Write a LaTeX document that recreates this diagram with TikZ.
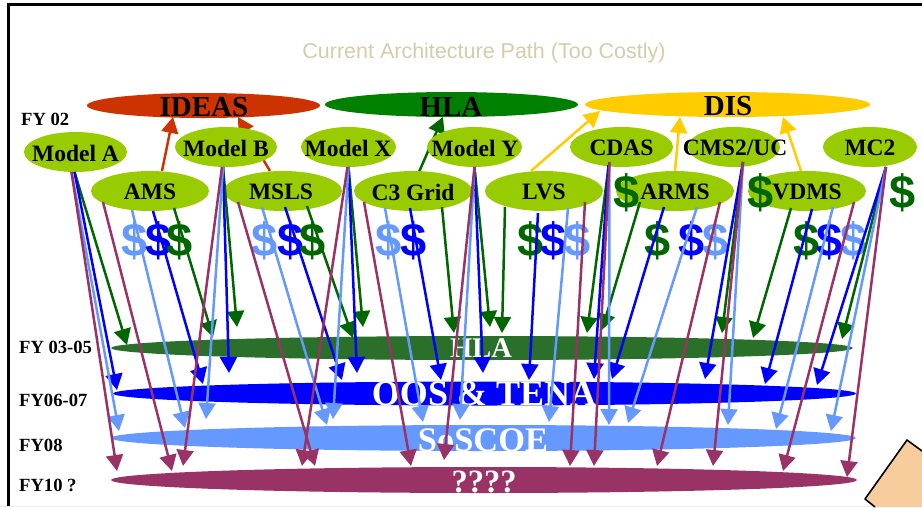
\documentclass[tikz,border=0pt]{standalone}
\usepackage{fontspec}
\usetikzlibrary{shapes.geometric,arrows.meta}
\setmainfont{Liberation Serif}
\newfontfamily\arialfont{Liberation Sans}
\definecolor{cRed}{HTML}{CC3300}
\definecolor{cGreen}{HTML}{008000}
\definecolor{cYellow}{HTML}{FFCC00}
\definecolor{cLime}{HTML}{99CC00}
\definecolor{cDark}{HTML}{006600}
\definecolor{cBand}{HTML}{2A6F2A}
\definecolor{cBlue}{HTML}{0000FF}
\definecolor{cLight}{HTML}{6699FF}
\definecolor{cPurple}{HTML}{993366}
\definecolor{cTan}{HTML}{D4CDA8}
\definecolor{cPeach}{HTML}{F8CD9E}
\newcommand{\fsz}[1]{\fontsize{#1}{#1}\selectfont}
\tikzset{
  x=1pt,y=-1pt,
  topoval/.style={ellipse,inner sep=0pt,minimum width=#1,minimum height=25pt},
  oval/.style={ellipse,inner sep=0pt,fill=cLime,minimum width=#1,minimum height=40pt},
  bandoval/.style={ellipse,inner sep=0pt,minimum width=#1},
  ovaltext/.style={font=\fsz{23.5}\bfseries,text=black,inner sep=0pt},
  toptext/.style={font=\fsz{29}\bfseries,text=black,inner sep=0pt},
  bandtext/.style={text=white,inner sep=0pt},
  fylabel/.style={font=\fsz{18.6}\bfseries,anchor=west,inner sep=0pt,text=black},
  dollar/.style={font=\arialfont\fsz{47}\bfseries,inner sep=0pt},
  toparrow/.style={line width=2.5pt,-{Triangle[length=16pt,width=17pt]}},
  arrG/.style={line width=2.5pt,cDark,-{Triangle[length=16pt,width=17pt]}},
  arrB/.style={line width=2.5pt,cBlue,-{Triangle[length=16pt,width=17pt]}},
  arrL/.style={line width=2.5pt,cLight,-{Triangle[length=16pt,width=17pt]}},
  arrP/.style={line width=2.5pt,cPurple,-{Triangle[length=16pt,width=17pt]}}
}
% style, source node, dx, dy from its centre, tip name, tip x, tip y
\newcommand{\conn}[7]{\coordinate (#5) at (#6,#7);\draw[#1] ([shift={(#3,#4)}]#2.center) -- (#5);}
\begin{document}
\begin{tikzpicture}
\useasboundingbox (0,0) rectangle (922,507);
% frame
\draw[line width=3pt,black] (8,507) -- (8,4.5) -- (922,4.5);
\draw[line width=1.5pt,black!7] (0,506.5) -- (922,506.5);
% peach shape
\fill[cPeach] (875,507) -- (865,499) -- (907,440) -- (922,451) -- (922,507) -- cycle;
\draw[line width=1.6pt,black,line join=round] (875,507) -- (865,499) -- (907,440) -- (922,451);
% title
\node[font=\arialfont\fsz{21.5},text=cTan,inner sep=0pt] (title) at (484,52.5) {Current Architecture Path (Too Costly)};
% top ellipses
\node[topoval=233pt,fill=cRed] (ideas) at (203.5,105.5) {};
\node[toptext] (ideasT) at (204,107) {IDEAS};
\node[topoval=253pt,fill=cGreen] (hla) at (451.5,104.5) {};
\node[toptext] (hlaT) at (451,106.5) {HLA};
\node[topoval=285pt,fill=cYellow] (dis) at (727.5,104.5) {};
\node[toptext] (disT) at (728,106) {DIS};
% FY labels
\node[fylabel] (fy02) at (21,119) {FY 02};
\node[fylabel] (fy03) at (19,347) {FY 03-05};
\node[fylabel] (fy06) at (19,400) {FY06-07};
\node[fylabel] (fy08) at (19,445) {FY08};
\node[fylabel] (fy10) at (19,485) {FY10 ?};
% invisible source ovals first, for the top arrows
\node[ellipse,minimum width=118pt,minimum height=40pt,inner sep=0pt] (ams) at (150,191) {};
\node[ellipse,minimum width=118pt,minimum height=40pt,inner sep=0pt] (msls) at (283,191) {};
\node[ellipse,minimum width=118pt,minimum height=40pt,inner sep=0pt] (c3) at (413,191) {};
\node[ellipse,minimum width=118pt,minimum height=40pt,inner sep=0pt] (lvs) at (544,191) {};
\node[ellipse,minimum width=118pt,minimum height=40pt,inner sep=0pt] (arms) at (675,191) {};
\node[ellipse,minimum width=118pt,minimum height=40pt,inner sep=0pt] (vdms) at (807,191) {};
% top arrows
\conn{toparrow,cRed}{ams}{12}{-20}{tIdeasA}{173}{117}
\conn{toparrow,cRed}{msls}{-13}{-20}{tIdeasB}{238}{117}
\conn{toparrow,cDark}{c3}{6}{-19}{tHla}{443}{117}
\conn{toparrow,cYellow}{lvs}{-13}{-20}{tDisA}{600}{111}
\conn{toparrow,cYellow}{arms}{0}{-20}{tDisB}{680}{117}
\conn{toparrow,cYellow}{vdms}{-6}{-20}{tDisC}{783}{117}
% green ovals
\node[oval=103pt] (ma) at (75.5,152) {};
\node[ovaltext] (maT) at (75.5,153) {Model A};
\node[oval=102pt] (mb) at (226,147) {};
\node[ovaltext] (mbT) at (226,148) {Model B};
\node[oval=95pt] (mx) at (348.5,147) {};
\node[ovaltext] (mxT) at (348,148) {Model X};
\node[oval=95pt] (my) at (474.5,147) {};
\node[ovaltext] (myT) at (475,148) {Model Y};
\node[oval=103pt] (cd) at (621.5,147) {};
\node[ovaltext] (cdT) at (621.5,148) {CDAS};
\node[oval=92pt] (cm) at (734,147) {};
\node[ovaltext] (cmT) at (735,148) {CMS2/UC};
\node[oval=94pt] (mc) at (870,147) {};
\node[ovaltext] (mcT) at (870,148) {MC2};
\node[oval=118pt] (amsO) at (150,191) {};
\node[ovaltext] (amsT) at (150,192) {AMS};
\node[oval=118pt] (mslsO) at (283,191) {};
\node[ovaltext] (mslsT) at (281,192) {MSLS};
\node[oval=118pt] (c3O) at (413,191) {};
\node[ovaltext] (c3T) at (413,192) {C3 Grid};
\node[oval=118pt] (lvsO) at (544,191) {};
\node[ovaltext] (lvsT) at (544,192) {LVS};
\node[oval=118pt] (armsO) at (675,191) {};
\node[ovaltext] (armsT) at (675,192) {ARMS};
\node[oval=118pt] (vdmsO) at (807,191) {};
\node[ovaltext] (vdmsT) at (807,192) {VDMS};
% bands
\node[bandoval=742pt,minimum height=24pt,fill=cBand] (bandA) at (482,348) {};
\node[bandoval=743pt,minimum height=24pt,fill=cBlue] (bandB) at (484.5,393.5) {};
\node[bandoval=745pt,minimum height=26pt,fill=cLight] (bandC) at (483.5,438) {};
\node[bandoval=746pt,minimum height=26pt,fill=cPurple] (bandD) at (484,480) {};
\node[bandtext,font=\fsz{28.5}\bfseries] (bandAT) at (481,348) {HLA};
\node[bandtext,font=\fsz{36}\bfseries] (bandBT) at (484,394) {OOS \& TENA};
\node[bandtext,font=\fsz{34.4}\bfseries] (bandCT) at (483,440) {SoSCOE};
\node[bandtext,font=\fsz{32.5}\bfseries] (bandDT) at (484,482) {????};
% dollars
\node[dollar,cLight] (d1) at (135,241) {\$};
\node[dollar,cBlue] (d2) at (159,241) {\$};
\node[dollar,cDark] (d3) at (180,241) {\$};
\node[dollar,cLight] (d4) at (265,241) {\$};
\node[dollar,cBlue] (d5) at (291,241) {\$};
\node[dollar,cDark] (d6) at (313,241) {\$};
\node[dollar,cLight] (d7) at (389,241) {\$};
\node[dollar,cBlue] (d8) at (414,241) {\$};
\node[dollar,cDark] (d9) at (531,241) {\$};
\node[dollar,cBlue] (d10) at (554,241) {\$};
\node[dollar,cLight] (d11) at (578,241) {\$};
\node[dollar,cDark] (d12) at (627,193) {\$};
\node[dollar,cDark] (d13) at (658,241) {\$};
\node[dollar,cBlue] (d14) at (692,241) {\$};
\node[dollar,cLight] (d15) at (716,241) {\$};
\node[dollar,cDark] (d16) at (761,193) {\$};
\node[dollar,cDark] (d17) at (807,241) {\$};
\node[dollar,cBlue] (d18) at (830,241) {\$};
\node[dollar,cLight] (d19) at (854,241) {\$};
\node[dollar,cDark] (d20) at (903,193) {\$};
% green arrows
\conn{arrG}{ma}{-1}{20}{g1}{127}{345}
\conn{arrG}{amsO}{24}{17}{g2}{213}{337}
\conn{arrG}{mb}{-3}{20}{g3}{237}{327}
\conn{arrG}{mslsO}{24}{15}{g4}{353}{338}
\conn{arrG}{mx}{0}{20}{g5}{363}{327}
\conn{arrG}{c3O}{29}{16}{g6}{454}{333}
\conn{arrG}{my}{0}{20}{g7}{490}{327}
\conn{arrG}{lvsO}{-39}{16}{g8}{502}{333}
\conn{arrG}{cd}{-13}{20}{g9}{587}{333}
\conn{arrG}{armsO}{-35}{11}{g10}{602}{330}
\conn{arrG}{cm}{9}{15}{g11}{722}{333}
\conn{arrG}{vdmsO}{-16}{17}{g12}{753}{338}
\conn{arrG}{mc}{16}{20}{g13}{842}{339}
% blue arrows
\conn{arrB}{ma}{-1}{20}{b1}{117}{390}
\conn{arrB}{amsO}{3}{20}{b2}{203}{384}
\conn{arrB}{mb}{-3}{20}{b3}{229}{373}
\conn{arrB}{mslsO}{2}{16}{b4}{342}{380}
\conn{arrB}{mx}{0}{20}{b5}{357}{373}
\conn{arrB}{c3O}{-3}{17}{b6}{441}{380}
\conn{arrB}{my}{0}{20}{b7}{483}{373}
\conn{arrB}{lvsO}{-6}{22}{b8}{529}{380}
\conn{arrB}{cd}{-13}{18}{b9}{594}{379}
\conn{arrB}{armsO}{-11}{16}{b10}{612}{379}
\conn{arrB}{cm}{9}{15}{b11}{705}{379}
\conn{arrB}{vdmsO}{5}{18}{b12}{765}{384}
\conn{arrB}{mc}{16}{20}{b13}{817}{385}
% light blue arrows
\conn{arrL}{ma}{-4}{20}{l1}{119}{431}
\conn{arrL}{amsO}{-18}{19}{l2}{185}{428}
\conn{arrL}{mb}{-3}{20}{l3}{206}{419}
\conn{arrL}{mslsO}{-21}{16}{l4}{327}{425}
\conn{arrL}{mx}{0}{20}{l5}{333}{419}
\conn{arrL}{c3O}{-28}{17}{l6}{423}{422}
\conn{arrL}{my}{0}{20}{l7}{460}{420}
\conn{arrL}{lvsO}{24}{17}{l8}{549}{422}
\conn{arrL}{cd}{-12}{15}{l9}{609}{425}
\conn{arrL}{armsO}{22}{16}{l10}{628}{423}
\conn{arrL}{cm}{9}{15}{l11}{728}{425}
\conn{arrL}{vdmsO}{26}{16}{l12}{776}{429}
\conn{arrL}{mc}{16}{20}{l13}{831}{431}
% purple arrows
\conn{arrP}{ma}{-4}{20}{p1}{117}{471}
\conn{arrP}{amsO}{-47}{11}{p2}{172}{471}
\conn{arrP}{mb}{-4}{20}{p3}{183}{466}
\conn{arrP}{mslsO}{-45}{11}{p4}{315}{466}
\conn{arrP}{mx}{-1}{20}{p5}{302}{466}
\conn{arrP}{c3O}{-49}{11}{p6}{411}{466}
\conn{arrP}{my}{0}{20}{p7}{444}{460}
\conn{arrP}{lvsO}{41}{11}{p8}{570}{466}
\conn{arrP}{cd}{-12}{15}{p9}{594}{466}
\conn{arrP}{armsO}{45}{11}{p10}{657}{466}
\conn{arrP}{cm}{9}{15}{p11}{713}{466}
\conn{arrP}{vdmsO}{47}{11}{p12}{783}{471}
\conn{arrP}{mc}{16}{20}{p13}{847}{477}
\end{tikzpicture}
\end{document}
